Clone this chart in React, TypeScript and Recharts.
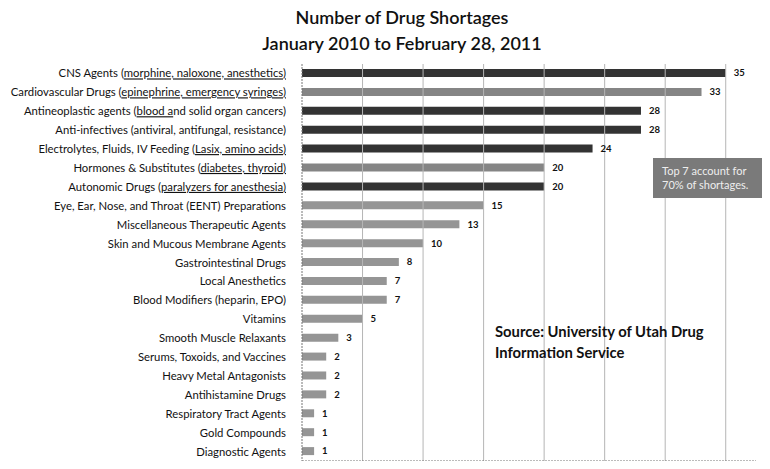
import { BarChart, Bar, XAxis, YAxis, Cell, LabelList, ReferenceLine } from 'recharts';

const categories = [
  'CNS Agents (morphine, naloxone, anesthetics)',
  'Cardiovascular Drugs (epinephrine, emergency syringes)',
  'Antineoplastic agents (blood and solid organ cancers)',
  'Anti-infectives (antiviral, antifungal, resistance)',
  'Electrolytes, Fluids, IV Feeding (Lasix, amino acids)',
  'Hormones & Substitutes (diabetes, thyroid)',
  'Autonomic Drugs (paralyzers for anesthesia)',
  'Eye, Ear, Nose, and Throat (EENT) Preparations',
  'Miscellaneous Therapeutic Agents',
  'Skin and Mucous Membrane Agents',
  'Gastrointestinal Drugs',
  'Local Anesthetics',
  'Blood Modifiers (heparin, EPO)',
  'Vitamins',
  'Smooth Muscle Relaxants',
  'Serums, Toxoids, and Vaccines',
  'Heavy Metal Antagonists',
  'Antihistamine Drugs',
  'Respiratory Tract Agents',
  'Gold Compounds',
  'Diagnostic Agents',
];

const shortages = [35, 33, 28, 28, 24, 20, 20, 15, 13, 10, 8, 7, 7, 5, 3, 2, 2, 2, 1, 1, 1];

// parts of the labels that were underlined by hand in the original
const underlined = [
  'morphine, naloxone, anesthetics)',
  'epinephrine, emergency syringes)',
  'blood a',
  '',
  'Lasix, amino acids)',
  'diabetes, thyroid)',
  'paralyzers for anesthesia)',
];

const xTicks = [0, 5, 10, 15, 20, 25, 30, 35];

const data = categories.map((name, i) => ({ name, value: shortages[i] }));

const darkRows = ['CNS', 'Antineoplastic', 'Anti-infectives', 'Electrolytes', 'Autonomic'];
const midRows = ['Cardiovascular', 'Hormones'];

function barColor(name: string) {
  if (darkRows.some((d) => name.startsWith(d))) return '#333333';
  if (midRows.some((d) => name.startsWith(d))) return '#858585';
  return '#959595';
}

function CategoryTick({ x, y, payload }: any) {
  const label: string = payload.value;
  const idx = categories.indexOf(label);
  const u = idx >= 0 ? underlined[idx] || '' : '';
  const pos = u ? label.indexOf(u) : -1;
  return (
    <text
      x={x}
      y={y}
      dy={4}
      textAnchor="end"
      fontFamily="Lato, sans-serif"
      fontSize={11.3}
      fill="#111"
    >
      {pos >= 0 ? (
        <>
          <tspan>{label.slice(0, pos)}</tspan>
          <tspan style={{ textDecoration: 'underline' }}>{u}</tspan>
          <tspan>{label.slice(pos + u.length)}</tspan>
        </>
      ) : (
        label
      )}
    </text>
  );
}

export default function App() {
  return (
    <div
      style={{
        position: 'relative',
        width: 770,
        height: 469,
        margin: -8,
        background: '#fff',
        overflow: 'hidden',
        fontFamily: 'Lato, sans-serif',
      }}
    >
      <div
        style={{
          position: 'absolute',
          left: 0,
          right: 0,
          top: 4,
          textAlign: 'center',
          paddingLeft: 34,
          fontSize: 18,
          lineHeight: '26px',
          color: '#111',
          fontWeight: 600,
        }}
      >
        <div>Number of Drug Shortages</div>
        <div>January 2010 to February 28, 2011</div>
      </div>

      <div
        style={{
          position: 'absolute',
          left: 3,
          top: 0,
          bottom: 0,
          borderLeft: '1px dotted #999',
        }}
      />

      <BarChart
        width={770}
        height={469}
        data={data}
        layout="vertical"
        margin={{ top: 64, right: 14, bottom: 7, left: 0 }}
        barSize={8}
        style={{ position: 'absolute', left: 0, top: 0 }}
      >
        <XAxis
          type="number"
          domain={[0, 37.5]}
          ticks={xTicks}
          height={1}
          tick={false}
          tickLine={false}
          axisLine={{ stroke: '#777', strokeDasharray: '2 1' }}
        />
        <YAxis
          type="category"
          dataKey="name"
          width={302}
          interval={0}
          tickLine={false}
          tickMargin={10}
          axisLine={{ stroke: '#777', strokeDasharray: '2 1' }}
          tick={<CategoryTick />}
        />
        {xTicks.slice(1).map((t) => (
          <ReferenceLine key={t} x={t} stroke="#b5b5b5" strokeWidth={1} />
        ))}
        <Bar dataKey="value" isAnimationActive={false}>
          {data.map((d, i) => (
            <Cell key={`cell-${i}`} fill={barColor(d.name)} />
          ))}
          <LabelList
            dataKey="value"
            position="right"
            offset={8}
            fill="#111"
            fontSize={9.5}
            fontWeight={700}
            fontFamily="Lato, sans-serif"
          />
        </Bar>
      </BarChart>

      <div
        style={{
          position: 'absolute',
          left: 653,
          top: 158,
          width: 117,
          height: 40,
          background: '#7a7a7a',
          color: '#eee',
          fontSize: 11,
          lineHeight: '14px',
          padding: '6px 0 0 9px',
          boxSizing: 'border-box',
        }}
      >
        <div>Top 7 account for</div>
        <div>70% of shortages.</div>
      </div>

      <div
        style={{
          position: 'absolute',
          left: 495,
          top: 321,
          fontSize: 14.8,
          lineHeight: '21px',
          fontWeight: 700,
          color: '#111',
        }}
      >
        <div>Source: University of Utah Drug</div>
        <div>Information Service</div>
      </div>
    </div>
  );
}
